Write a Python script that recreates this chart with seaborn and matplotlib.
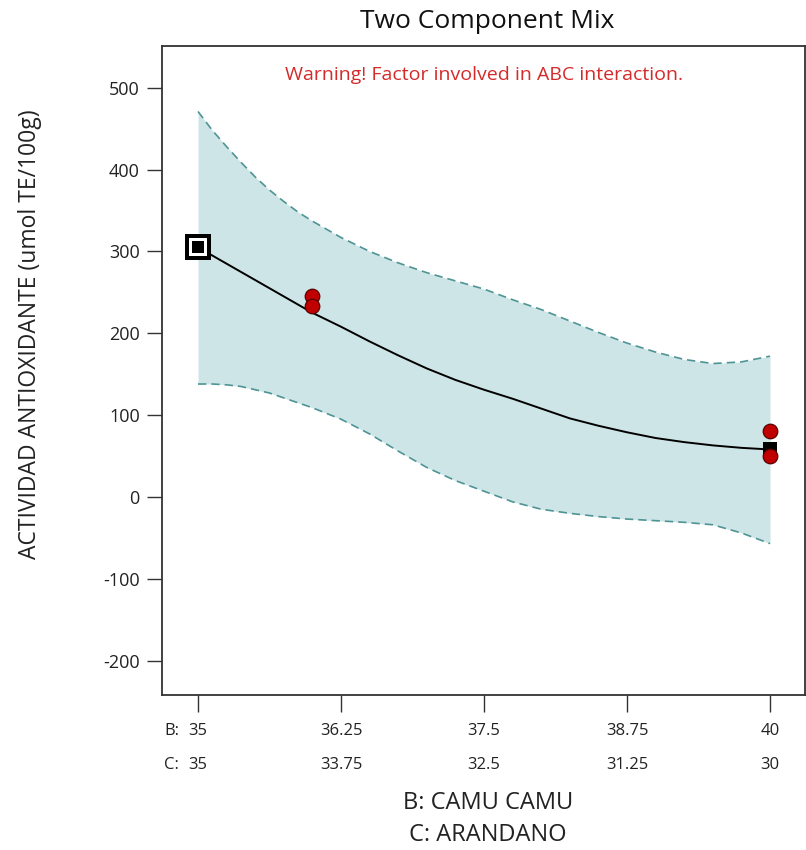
import numpy as np
import pandas as pd
import matplotlib
matplotlib.use("Agg")
import matplotlib.pyplot as plt
import matplotlib.transforms as mtransforms
import seaborn as sns

# ---- data ----
b_grid = [35, 35.125, 35.25, 35.375, 35.5, 35.625, 35.75, 35.875, 36, 36.25, 36.5,
          36.75, 37, 37.25, 37.5, 37.75, 38, 38.25, 38.5, 38.75, 39, 39.25,
          39.5, 39.75, 40]
fit = [305, 295, 285, 275, 265, 255, 245, 235, 225, 208, 190,
       173, 157, 143, 131, 120, 108, 96, 87, 79, 72, 67,
       63, 60, 58]
upper = [471, 448, 428, 409, 391, 375, 361, 348, 337, 317, 300,
         286, 274, 264, 254, 241, 229, 215, 201, 188, 177, 168,
         163, 165, 172]
lower = [138, 138, 137, 135, 131, 127, 121, 115, 109, 95, 77,
         56, 36, 20, 7, -6, -15, -20, -24, -27, -29, -31,
         -34, -44, -57]
obs_b = [36.0, 36.0, 40.0, 40.0]
obs_y = [245, 233, 80, 50]
pred_b = [35.0, 40.0]
pred_y = [305, 58]
tick_b = [35, 36.25, 37.5, 38.75, 40]
tick_c = [35, 33.75, 32.5, 31.25, 30]
y_ticks = [-200, -100, 0, 100, 200, 300, 400, 500]

sns.set_style("white")
plt.rcParams['font.family'] = ['Open Sans', 'DejaVu Sans']

W, H = 806, 850
fig = plt.figure(figsize=(W / 100, H / 100), dpi=100)
ax = fig.add_axes([162 / W, 1 - 695 / H, (805 - 162) / W, (695 - 46) / H])

df = pd.DataFrame({"B": b_grid, "fit": fit, "upper": upper, "lower": lower})

ax.fill_between(df["B"], df["lower"], df["upper"], color="#cde5e7", lw=0, zorder=1)
band_col = "#4f9494"
ax.plot(df["B"], df["upper"], color=band_col, lw=1.2, ls=(0, (5, 3)), zorder=2)
ax.plot(df["B"], df["lower"], color=band_col, lw=1.2, ls=(0, (5, 3)), zorder=2)
sns.lineplot(data=df, x="B", y="fit", color="black", lw=1.4, ax=ax, zorder=3)

# design point markers
ax.scatter([pred_b[0]], [pred_y[0]], marker="s", s=330, color="black", zorder=5, lw=0)
ax.scatter([pred_b[0]], [pred_y[0]], marker="s", s=170, color="white", zorder=6, lw=0)
ax.scatter([pred_b[0]], [pred_y[0]], marker="s", s=80, color="black", zorder=7, lw=0)
ax.scatter([pred_b[1]], [pred_y[1]], marker="s", s=110, color="black", zorder=4, lw=0)

obs = pd.DataFrame({"B": obs_b, "y": obs_y})
sns.scatterplot(data=obs, x="B", y="y", s=110, color="#c00000",
                edgecolor="#5a0000", linewidth=0.9, ax=ax, zorder=8)

ax.set_xlim(35 - 36 / 114.4, 40 + 35 / 114.4)
ax.set_ylim(-242, 551)
ax.set_yticks(y_ticks)
ax.set_yticklabels([str(v) for v in y_ticks], fontsize=13, color="#222222")
ax.set_xticks(tick_b)
ax.set_xticklabels([])
ax.set_xlabel("")
ax.set_ylabel("")
ax.tick_params(axis="y", direction="out", length=11, width=1, color="#333333", left=True, pad=5)
ax.tick_params(axis="x", direction="out", length=12, width=1, color="#333333", bottom=True)
for s in ax.spines.values():
    s.set_color("#333333")
    s.set_linewidth(1.3)

fs_tick = 12
trans = mtransforms.blended_transform_factory(ax.transData, fig.transFigure)
for b, c in zip(tick_b, tick_c):
    ax.text(b, 1 - 731 / H, f"{b:g}", transform=trans, ha="center", va="center",
            fontsize=fs_tick, color="#222222")
    ax.text(b, 1 - 765 / H, f"{c:g}", transform=trans, ha="center", va="center",
            fontsize=fs_tick, color="#222222")
fig.text(164 / W, 1 - 731 / H, "B:", ha="left", va="center", fontsize=fs_tick, color="#222222")
fig.text(164 / W, 1 - 765 / H, "C:", ha="left", va="center", fontsize=fs_tick, color="#222222")

cx = 488 / W
fig.text(cx, 1 - 803 / H, "B: CAMU CAMU", ha="center", va="center", fontsize=17, color="#222222")
fig.text(cx, 1 - 835 / H, "C: ARANDANO", ha="center", va="center", fontsize=17, color="#222222")
fig.text(487 / W, 1 - 22 / H, "Two Component Mix", ha="center", va="center", fontsize=19, color="#111111")
fig.text(484 / W, 1 - 75 / H, "Warning! Factor involved in ABC interaction.", ha="center", va="center",
         fontsize=14, color="#d42a2a")
fig.text(30 / W, 1 - 334 / H, "ACTIVIDAD ANTIOXIDANTE (umol TE/100g)", rotation=90,
         ha="center", va="center", fontsize=16.5, color="#222222")

fig.savefig("out.png", dpi=100)
